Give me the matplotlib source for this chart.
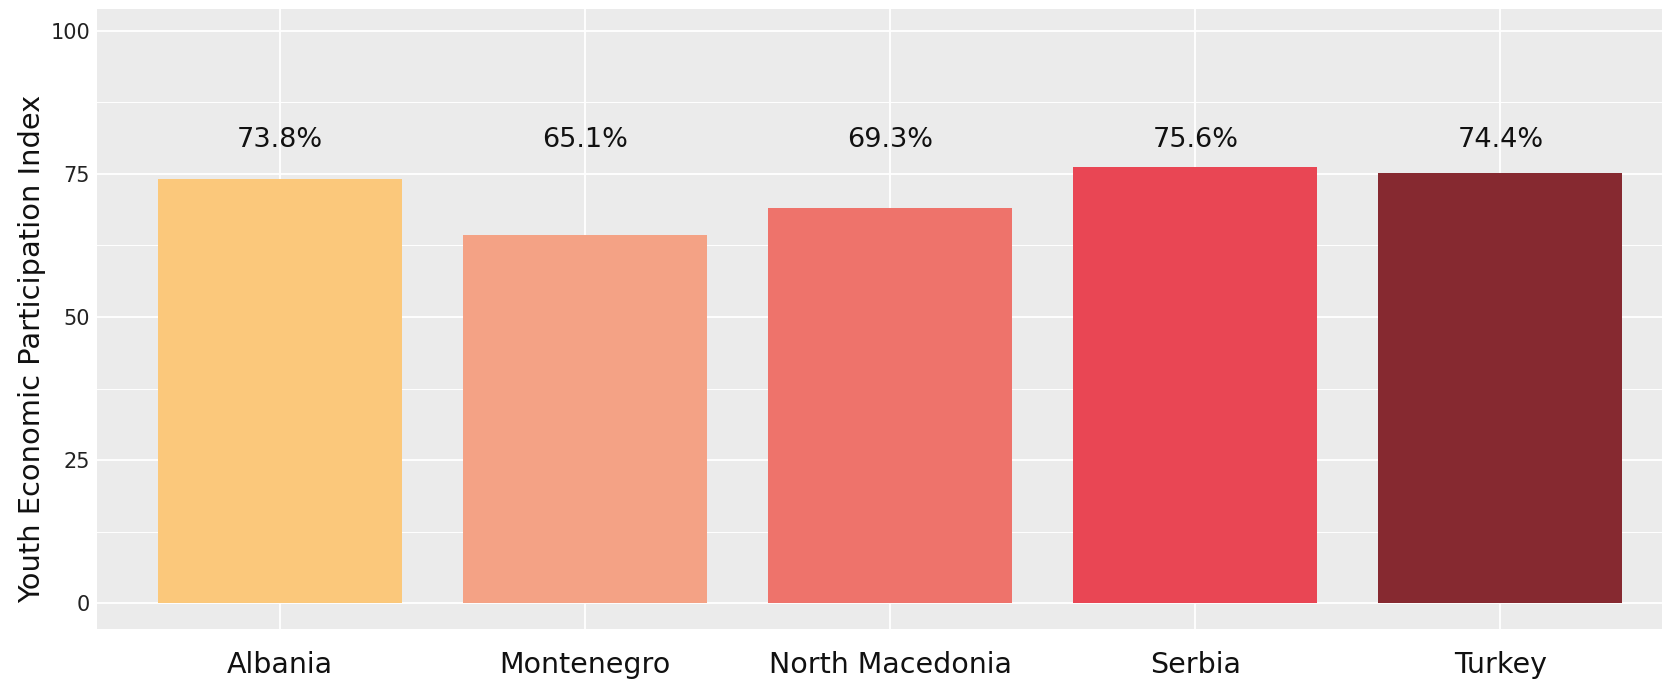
import matplotlib.pyplot as plt
from matplotlib.ticker import MultipleLocator

countries = ["Albania", "Montenegro", "North Macedonia", "Serbia", "Turkey"]
bar_values = [74.1, 64.3, 69.0, 76.2, 75.2]
labels = ["73.8%", "65.1%", "69.3%", "75.6%", "74.4%"]
label_y = 81.0
colors = ["#FBC87B", "#F4A285", "#EE736B", "#E94654", "#862930"]

plt.rcParams["font.family"] = ["DejaVu Sans"]

fig = plt.figure(figsize=(16.62, 6.79), dpi=100)
ax = fig.add_axes([0.0584, 0.0736, 1 - 0.0584, 0.9867 - 0.0736])
ax.set_facecolor("#EBEBEB")

x = list(range(1, len(countries) + 1))
ax.bar(x, bar_values, width=0.8, color=colors, zorder=3)
for xi, lab in zip(x, labels):
    ax.text(xi, label_y, lab, ha="center", va="center", fontsize=19.5, color="#111111", zorder=4)

ax.set_xlim(0.4, 5.53)
ax.set_ylim(-4.5, 103.8)
ax.set_xticks(x)
ax.set_xticklabels(countries)
ax.yaxis.set_major_locator(MultipleLocator(25))
ax.yaxis.set_minor_locator(MultipleLocator(12.5))

ax.grid(True, which="major", color="white", linewidth=1.3, zorder=1)
ax.grid(True, which="minor", axis="y", color="white", linewidth=0.7, zorder=1)
ax.tick_params(axis="both", which="both", length=0)
ax.tick_params(axis="y", labelsize=15, labelcolor="#222222", pad=5)
ax.tick_params(axis="x", labelsize=20.5, labelcolor="#111111", pad=16)
for s in ax.spines.values():
    s.set_visible(False)

ax.set_ylabel("Youth Economic Participation Index", fontsize=20.8, color="#111111", va="center")
ax.yaxis.set_label_coords(-0.0415, 0.452)

fig.savefig("out.png", dpi=100)
